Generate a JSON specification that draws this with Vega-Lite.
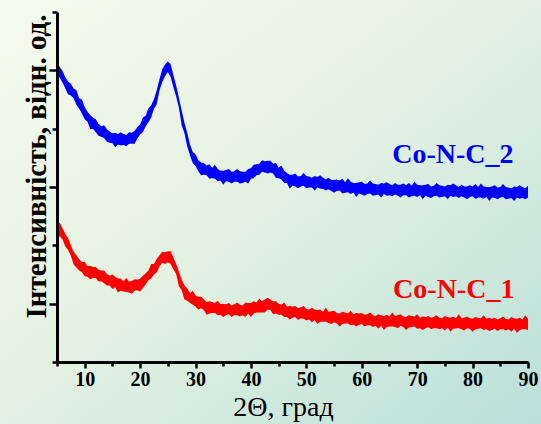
{
  "$schema": "https://vega.github.io/schema/vega-lite/v6.json",
  "width": 471,
  "height": 350,
  "autosize": {"type": "none"},
  "padding": {"left": 57, "top": 12, "right": 13, "bottom": 62},
  "background": "#e3f1e2",
  "config": {
    "view": {"stroke": null},
    "axis": {
      "grid": false,
      "domainColor": "#000000",
      "domainWidth": 3,
      "tickColor": "#000000",
      "tickWidth": 2.5,
      "labelColor": "#000000",
      "titleColor": "#000000",
      "labelFont": "Liberation Serif",
      "titleFont": "Liberation Serif"
    }
  },
  "resolve": {"axis": {"x": "independent", "y": "independent"}},
  "datasets": {
    "blue": [
      {"x":5,"lo":4.95,"hi":5.14},{"x":5.5,"lo":4.87,"hi":5.06},{"x":6,"lo":4.79,"hi":4.99},{"x":6.5,"lo":4.69,"hi":4.88},{"x":7,"lo":4.59,"hi":4.81},{"x":7.5,"lo":4.57,"hi":4.77},{"x":8,"lo":4.52,"hi":4.69},{"x":8.5,"lo":4.41,"hi":4.66},{"x":9,"lo":4.34,"hi":4.52},{"x":9.5,"lo":4.26,"hi":4.5},
      {"x":10,"lo":4.16,"hi":4.37},{"x":10.5,"lo":4.12,"hi":4.29},{"x":11,"lo":3.99,"hi":4.23},{"x":11.5,"lo":4,"hi":4.19},{"x":12,"lo":3.94,"hi":4.16},{"x":12.5,"lo":3.88,"hi":4.08},{"x":13,"lo":3.86,"hi":4.04},{"x":13.5,"lo":3.84,"hi":4.06},{"x":14,"lo":3.78,"hi":3.99},{"x":14.5,"lo":3.76,"hi":3.95},
      {"x":15,"lo":3.75,"hi":3.92},{"x":15.5,"lo":3.68,"hi":3.93},{"x":16,"lo":3.73,"hi":3.91},{"x":16.5,"lo":3.71,"hi":3.94},{"x":17,"lo":3.72,"hi":3.91},{"x":17.5,"lo":3.7,"hi":3.89},{"x":18,"lo":3.74,"hi":3.94},{"x":18.5,"lo":3.74,"hi":3.93},{"x":19,"lo":3.74,"hi":3.96},{"x":19.5,"lo":3.83,"hi":4.03},
      {"x":20,"lo":3.9,"hi":4.07},{"x":20.5,"lo":3.94,"hi":4.19},{"x":21,"lo":4.04,"hi":4.22},{"x":21.5,"lo":4.11,"hi":4.35},{"x":22,"lo":4.19,"hi":4.4},{"x":22.5,"lo":4.34,"hi":4.51},{"x":23,"lo":4.42,"hi":4.66},{"x":23.5,"lo":4.66,"hi":4.85},{"x":24,"lo":4.8,"hi":5.02},{"x":24.5,"lo":4.9,"hi":5.1},
      {"x":25,"lo":4.97,"hi":5.15},{"x":25.5,"lo":4.89,"hi":5.11},{"x":26,"lo":4.71,"hi":4.92},{"x":26.5,"lo":4.55,"hi":4.74},{"x":27,"lo":4.36,"hi":4.53},{"x":27.5,"lo":4.06,"hi":4.31},{"x":28,"lo":3.92,"hi":4.1},{"x":28.5,"lo":3.7,"hi":3.93},{"x":29,"lo":3.54,"hi":3.73},{"x":29.5,"lo":3.41,"hi":3.6},
      {"x":30,"lo":3.36,"hi":3.56},{"x":30.5,"lo":3.27,"hi":3.46},{"x":31,"lo":3.2,"hi":3.42},{"x":31.5,"lo":3.21,"hi":3.41},{"x":32,"lo":3.2,"hi":3.37},{"x":32.5,"lo":3.14,"hi":3.39},{"x":33,"lo":3.15,"hi":3.33},{"x":33.5,"lo":3.14,"hi":3.38},{"x":34,"lo":3.1,"hi":3.31},{"x":34.5,"lo":3.11,"hi":3.28},
      {"x":35,"lo":3.04,"hi":3.28},{"x":35.5,"lo":3.1,"hi":3.29},{"x":36,"lo":3.09,"hi":3.31},{"x":36.5,"lo":3.06,"hi":3.26},{"x":37,"lo":3.09,"hi":3.27},{"x":37.5,"lo":3.09,"hi":3.31},{"x":38,"lo":3.06,"hi":3.27},{"x":38.5,"lo":3.07,"hi":3.26},{"x":39,"lo":3.09,"hi":3.26},{"x":39.5,"lo":3.06,"hi":3.31},
      {"x":40,"lo":3.14,"hi":3.32},{"x":40.5,"lo":3.15,"hi":3.38},{"x":41,"lo":3.2,"hi":3.39},{"x":41.5,"lo":3.21,"hi":3.4},{"x":42,"lo":3.26,"hi":3.46},{"x":42.5,"lo":3.25,"hi":3.44},{"x":43,"lo":3.23,"hi":3.45},{"x":43.5,"lo":3.25,"hi":3.45},{"x":44,"lo":3.23,"hi":3.4},{"x":44.5,"lo":3.16,"hi":3.41},
      {"x":45,"lo":3.15,"hi":3.33},{"x":45.5,"lo":3.13,"hi":3.37},{"x":46,"lo":3.07,"hi":3.28},{"x":46.5,"lo":3.07,"hi":3.24},{"x":47,"lo":2.97,"hi":3.21},{"x":47.5,"lo":3.02,"hi":3.21},{"x":48,"lo":3.01,"hi":3.23},{"x":48.5,"lo":2.98,"hi":3.18},{"x":49,"lo":3.01,"hi":3.19},{"x":49.5,"lo":3.02,"hi":3.24},
      {"x":50,"lo":2.98,"hi":3.19},{"x":50.5,"lo":2.99,"hi":3.18},{"x":51,"lo":2.99,"hi":3.16},{"x":51.5,"lo":2.94,"hi":3.19},{"x":52,"lo":2.99,"hi":3.17},{"x":52.5,"lo":2.97,"hi":3.2},{"x":53,"lo":2.97,"hi":3.16},{"x":53.5,"lo":2.94,"hi":3.13},{"x":54,"lo":2.96,"hi":3.16},{"x":54.5,"lo":2.93,"hi":3.12},
      {"x":55,"lo":2.9,"hi":3.12},{"x":55.5,"lo":2.93,"hi":3.13},{"x":56,"lo":2.94,"hi":3.11},{"x":56.5,"lo":2.89,"hi":3.14},{"x":57,"lo":2.9,"hi":3.08},{"x":57.5,"lo":2.91,"hi":3.15},{"x":58,"lo":2.88,"hi":3.09},{"x":58.5,"lo":2.9,"hi":3.07},{"x":59,"lo":2.83,"hi":3.07},{"x":59.5,"lo":2.89,"hi":3.08},
      {"x":60,"lo":2.87,"hi":3.09},{"x":60.5,"lo":2.85,"hi":3.05},{"x":61,"lo":2.88,"hi":3.06},{"x":61.5,"lo":2.89,"hi":3.11},{"x":62,"lo":2.85,"hi":3.06},{"x":62.5,"lo":2.86,"hi":3.05},{"x":63,"lo":2.87,"hi":3.04},{"x":63.5,"lo":2.82,"hi":3.07},{"x":64,"lo":2.88,"hi":3.06},{"x":64.5,"lo":2.85,"hi":3.08},
      {"x":65,"lo":2.86,"hi":3.05},{"x":65.5,"lo":2.84,"hi":3.03},{"x":66,"lo":2.87,"hi":3.07},{"x":66.5,"lo":2.85,"hi":3.04},{"x":67,"lo":2.82,"hi":3.04},{"x":67.5,"lo":2.86,"hi":3.06},{"x":68,"lo":2.86,"hi":3.03},{"x":68.5,"lo":2.82,"hi":3.07},{"x":69,"lo":2.84,"hi":3.02},{"x":69.5,"lo":2.85,"hi":3.09},
      {"x":70,"lo":2.83,"hi":3.04},{"x":70.5,"lo":2.86,"hi":3.03},{"x":71,"lo":2.79,"hi":3.03},{"x":71.5,"lo":2.85,"hi":3.04},{"x":72,"lo":2.83,"hi":3.05},{"x":72.5,"lo":2.81,"hi":3.01},{"x":73,"lo":2.84,"hi":3.02},{"x":73.5,"lo":2.85,"hi":3.07},{"x":74,"lo":2.82,"hi":3.03},{"x":74.5,"lo":2.83,"hi":3.02},
      {"x":75,"lo":2.84,"hi":3.01},{"x":75.5,"lo":2.79,"hi":3.04},{"x":76,"lo":2.85,"hi":3.03},{"x":76.5,"lo":2.83,"hi":3.06},{"x":77,"lo":2.84,"hi":3.03},{"x":77.5,"lo":2.81,"hi":3},{"x":78,"lo":2.84,"hi":3.04},{"x":78.5,"lo":2.82,"hi":3.01},{"x":79,"lo":2.79,"hi":3.01},{"x":79.5,"lo":2.83,"hi":3.03},
      {"x":80,"lo":2.84,"hi":3.01},{"x":80.5,"lo":2.8,"hi":3.05},{"x":81,"lo":2.82,"hi":3},{"x":81.5,"lo":2.82,"hi":3.06},{"x":82,"lo":2.8,"hi":3.01},{"x":82.5,"lo":2.83,"hi":3},{"x":83,"lo":2.76,"hi":3},{"x":83.5,"lo":2.82,"hi":3.01},{"x":84,"lo":2.81,"hi":3.03},{"x":84.5,"lo":2.79,"hi":2.99},
      {"x":85,"lo":2.82,"hi":3},{"x":85.5,"lo":2.83,"hi":3.05},{"x":86,"lo":2.79,"hi":3},{"x":86.5,"lo":2.8,"hi":2.99},{"x":87,"lo":2.81,"hi":2.98},{"x":87.5,"lo":2.76,"hi":3.01},{"x":88,"lo":2.82,"hi":3},{"x":88.5,"lo":2.8,"hi":3.03},{"x":89,"lo":2.81,"hi":3},{"x":89.5,"lo":2.79,"hi":2.98},
      {"x":90,"lo":2.82,"hi":3.02}
    ],
    "red": [
      {"x":5,"lo":2.13,"hi":2.3},{"x":5.5,"lo":2.15,"hi":2.39},{"x":6,"lo":2.1,"hi":2.29},{"x":6.5,"lo":1.98,"hi":2.2},{"x":7,"lo":1.92,"hi":2.12},{"x":7.5,"lo":1.82,"hi":2},{"x":8,"lo":1.67,"hi":1.89},{"x":8.5,"lo":1.62,"hi":1.83},{"x":9,"lo":1.57,"hi":1.76},{"x":9.5,"lo":1.54,"hi":1.71},
      {"x":10,"lo":1.47,"hi":1.72},{"x":10.5,"lo":1.46,"hi":1.64},{"x":11,"lo":1.42,"hi":1.65},{"x":11.5,"lo":1.44,"hi":1.63},{"x":12,"lo":1.44,"hi":1.63},{"x":12.5,"lo":1.38,"hi":1.58},{"x":13,"lo":1.38,"hi":1.57},{"x":13.5,"lo":1.35,"hi":1.57},{"x":14,"lo":1.31,"hi":1.51},{"x":14.5,"lo":1.31,"hi":1.48},
      {"x":15,"lo":1.25,"hi":1.5},{"x":15.5,"lo":1.28,"hi":1.46},{"x":16,"lo":1.19,"hi":1.43},{"x":16.5,"lo":1.22,"hi":1.43},{"x":17,"lo":1.21,"hi":1.38},{"x":17.5,"lo":1.2,"hi":1.44},{"x":18,"lo":1.19,"hi":1.38},{"x":18.5,"lo":1.17,"hi":1.39},{"x":19,"lo":1.22,"hi":1.42},{"x":19.5,"lo":1.23,"hi":1.41},
      {"x":20,"lo":1.21,"hi":1.43},{"x":20.5,"lo":1.27,"hi":1.48},{"x":21,"lo":1.33,"hi":1.52},{"x":21.5,"lo":1.4,"hi":1.57},{"x":22,"lo":1.43,"hi":1.68},{"x":22.5,"lo":1.5,"hi":1.68},{"x":23,"lo":1.54,"hi":1.77},{"x":23.5,"lo":1.64,"hi":1.83},{"x":24,"lo":1.7,"hi":1.89},{"x":24.5,"lo":1.68,"hi":1.88},
      {"x":25,"lo":1.71,"hi":1.9},{"x":25.5,"lo":1.68,"hi":1.9},{"x":26,"lo":1.59,"hi":1.79},{"x":26.5,"lo":1.51,"hi":1.68},{"x":27,"lo":1.3,"hi":1.55},{"x":27.5,"lo":1.23,"hi":1.41},{"x":28,"lo":1.07,"hi":1.31},{"x":28.5,"lo":1.05,"hi":1.26},{"x":29,"lo":1.01,"hi":1.18},{"x":29.5,"lo":0.98,"hi":1.22},
      {"x":30,"lo":0.95,"hi":1.14},{"x":30.5,"lo":0.9,"hi":1.12},{"x":31,"lo":0.92,"hi":1.12},{"x":31.5,"lo":0.89,"hi":1.07},{"x":32,"lo":0.81,"hi":1.03},{"x":32.5,"lo":0.83,"hi":1.04},{"x":33,"lo":0.84,"hi":1.03},{"x":33.5,"lo":0.84,"hi":1.01},{"x":34,"lo":0.8,"hi":1.05},{"x":34.5,"lo":0.81,"hi":0.99},
      {"x":35,"lo":0.77,"hi":1},{"x":35.5,"lo":0.8,"hi":0.99},{"x":36,"lo":0.82,"hi":1.01},{"x":36.5,"lo":0.77,"hi":0.97},{"x":37,"lo":0.8,"hi":0.99},{"x":37.5,"lo":0.8,"hi":1.02},{"x":38,"lo":0.78,"hi":0.98},{"x":38.5,"lo":0.8,"hi":0.97},{"x":39,"lo":0.77,"hi":1.02},{"x":39.5,"lo":0.83,"hi":1.01},
      {"x":40,"lo":0.77,"hi":1.01},{"x":40.5,"lo":0.83,"hi":1.04},{"x":41,"lo":0.85,"hi":1.02},{"x":41.5,"lo":0.85,"hi":1.09},{"x":42,"lo":0.85,"hi":1.04},{"x":42.5,"lo":0.85,"hi":1.07},{"x":43,"lo":0.9,"hi":1.1},{"x":43.5,"lo":0.89,"hi":1.07},{"x":44,"lo":0.82,"hi":1.04},{"x":44.5,"lo":0.83,"hi":1.04},
      {"x":45,"lo":0.81,"hi":1},{"x":45.5,"lo":0.81,"hi":0.98},{"x":46,"lo":0.77,"hi":1.02},{"x":46.5,"lo":0.77,"hi":0.95},{"x":47,"lo":0.73,"hi":0.96},{"x":47.5,"lo":0.76,"hi":0.95},{"x":48,"lo":0.77,"hi":0.96},{"x":48.5,"lo":0.72,"hi":0.92},{"x":49,"lo":0.75,"hi":0.94},{"x":49.5,"lo":0.74,"hi":0.96},
      {"x":50,"lo":0.71,"hi":0.91},{"x":50.5,"lo":0.73,"hi":0.9},{"x":51,"lo":0.68,"hi":0.93},{"x":51.5,"lo":0.72,"hi":0.9},{"x":52,"lo":0.65,"hi":0.89},{"x":52.5,"lo":0.69,"hi":0.9},{"x":53,"lo":0.69,"hi":0.86},{"x":53.5,"lo":0.69,"hi":0.93},{"x":54,"lo":0.67,"hi":0.86},{"x":54.5,"lo":0.65,"hi":0.87},
      {"x":55,"lo":0.68,"hi":0.88},{"x":55.5,"lo":0.66,"hi":0.84},{"x":56,"lo":0.61,"hi":0.83},{"x":56.5,"lo":0.65,"hi":0.86},{"x":57,"lo":0.66,"hi":0.85},{"x":57.5,"lo":0.66,"hi":0.83},{"x":58,"lo":0.63,"hi":0.88},{"x":58.5,"lo":0.64,"hi":0.82},{"x":59,"lo":0.61,"hi":0.84},{"x":59.5,"lo":0.64,"hi":0.83},
      {"x":60,"lo":0.65,"hi":0.84},{"x":60.5,"lo":0.61,"hi":0.81},{"x":61,"lo":0.63,"hi":0.82},{"x":61.5,"lo":0.63,"hi":0.85},{"x":62,"lo":0.6,"hi":0.8},{"x":62.5,"lo":0.62,"hi":0.79},{"x":63,"lo":0.57,"hi":0.82},{"x":63.5,"lo":0.62,"hi":0.8},{"x":64,"lo":0.55,"hi":0.79},{"x":64.5,"lo":0.6,"hi":0.81},
      {"x":65,"lo":0.61,"hi":0.78},{"x":65.5,"lo":0.61,"hi":0.85},{"x":66,"lo":0.6,"hi":0.79},{"x":66.5,"lo":0.58,"hi":0.8},{"x":67,"lo":0.62,"hi":0.82},{"x":67.5,"lo":0.6,"hi":0.78},{"x":68,"lo":0.55,"hi":0.77},{"x":68.5,"lo":0.59,"hi":0.8},{"x":69,"lo":0.6,"hi":0.79},{"x":69.5,"lo":0.61,"hi":0.78},
      {"x":70,"lo":0.57,"hi":0.82},{"x":70.5,"lo":0.58,"hi":0.76},{"x":71,"lo":0.55,"hi":0.78},{"x":71.5,"lo":0.58,"hi":0.77},{"x":72,"lo":0.6,"hi":0.79},{"x":72.5,"lo":0.56,"hi":0.76},{"x":73,"lo":0.58,"hi":0.77},{"x":73.5,"lo":0.58,"hi":0.8},{"x":74,"lo":0.56,"hi":0.76},{"x":74.5,"lo":0.58,"hi":0.75},
      {"x":75,"lo":0.54,"hi":0.79},{"x":75.5,"lo":0.59,"hi":0.77},{"x":76,"lo":0.52,"hi":0.76},{"x":76.5,"lo":0.57,"hi":0.78},{"x":77,"lo":0.58,"hi":0.75},{"x":77.5,"lo":0.58,"hi":0.82},{"x":78,"lo":0.56,"hi":0.75},{"x":78.5,"lo":0.54,"hi":0.76},{"x":79,"lo":0.58,"hi":0.78},{"x":79.5,"lo":0.57,"hi":0.75},
      {"x":80,"lo":0.52,"hi":0.74},{"x":80.5,"lo":0.56,"hi":0.77},{"x":81,"lo":0.57,"hi":0.76},{"x":81.5,"lo":0.58,"hi":0.75},{"x":82,"lo":0.55,"hi":0.8},{"x":82.5,"lo":0.56,"hi":0.74},{"x":83,"lo":0.53,"hi":0.76},{"x":83.5,"lo":0.55,"hi":0.74},{"x":84,"lo":0.57,"hi":0.76},{"x":84.5,"lo":0.53,"hi":0.73},
      {"x":85,"lo":0.56,"hi":0.75},{"x":85.5,"lo":0.56,"hi":0.78},{"x":86,"lo":0.54,"hi":0.74},{"x":86.5,"lo":0.56,"hi":0.73},{"x":87,"lo":0.52,"hi":0.77},{"x":87.5,"lo":0.57,"hi":0.75},{"x":88,"lo":0.5,"hi":0.74},{"x":88.5,"lo":0.55,"hi":0.76},{"x":89,"lo":0.56,"hi":0.73},{"x":89.5,"lo":0.56,"hi":0.8},
      {"x":90,"lo":0.55,"hi":0.74}
    ],
    "one": [{}]
  },
  "layer": [
    {
      "data": {"name": "one"},
      "mark": {
        "type": "rect",
        "clip": false,
        "color": {
          "gradient": "linear",
          "x1": 0, "y1": 0, "x2": 1, "y2": 1,
          "stops": [
            {"offset": 0, "color": "#f5fbec"},
            {"offset": 0.5, "color": "#e2f1e1"},
            {"offset": 1, "color": "#b9dfd9"}
          ]
        }
      },
      "encoding": {
        "x": {"datum": -5.4, "type": "quantitative", "scale": {"domain": [5, 90], "nice": false, "zero": false}, "axis": null},
        "x2": {"datum": 92.4},
        "y": {"datum": -1.07, "type": "quantitative", "scale": {"domain": [0, 6], "nice": false, "zero": false}, "axis": null},
        "y2": {"datum": 6.21}
      }
    },
    {
      "description": "blue pattern; carries the main axes",
      "data": {"name": "blue"},
      "mark": {"type": "area", "color": "#0000ff", "opacity": 1},
      "encoding": {
        "x": {
          "field": "x", "type": "quantitative",
          "scale": {"domain": [5, 90], "nice": false, "zero": false},
          "axis": {
            "orient": "bottom",
            "zindex": 1,
            "title": "2Θ, град",
            "values": [10, 20, 30, 40, 50, 60, 70, 80, 90],
            "tickSize": 6,
            "labelFlush": false,
            "labelOverlap": false,
            "labelFontSize": 20,
            "labelFontWeight": "bold",
            "labelPadding": 1,
            "titleFontSize": 28,
            "titleFontWeight": "normal",
            "titleX": 226,
            "titleY": 53,
            "titleBaseline": "alphabetic"
          }
        },
        "y": {
          "field": "hi", "type": "quantitative",
          "scale": {"domain": [0, 6], "nice": false, "zero": false},
          "axis": {
            "orient": "left",
            "zindex": 1,
            "title": "Інтенсивність, відн. од.",
            "values": [1, 3, 5],
            "labels": false,
            "tickSize": 8,
            "titleFontSize": 29,
            "titleFontWeight": "bold",
            "titleX": -12,
            "titleY": 154,
            "titleAngle": 270,
            "titleAlign": "center",
            "titleBaseline": "alphabetic"
          }
        },
        "y2": {"field": "lo"}
      }
    },
    {
      "description": "red pattern; carries the minor ticks",
      "data": {"name": "red"},
      "mark": {"type": "area", "color": "#ff0000", "opacity": 1},
      "encoding": {
        "x": {
          "field": "x", "type": "quantitative",
          "scale": {"domain": [5, 90], "nice": false, "zero": false},
          "axis": {"orient": "bottom", "zindex": 1, "values": [5, 15, 25, 35, 45, 55, 65, 75, 85], "tickSize": 4, "labels": false, "domain": false, "title": null}
        },
        "y": {
          "field": "hi", "type": "quantitative",
          "scale": {"domain": [0, 6], "nice": false, "zero": false},
          "axis": {"orient": "left", "zindex": 1, "values": [0, 2, 4, 6], "tickSize": 5, "labels": false, "domain": false, "title": null}
        },
        "y2": {"field": "lo"}
      }
    },
    {
      "data": {"name": "one"},
      "mark": {"type": "text", "font": "Liberation Serif", "fontSize": 28, "fontWeight": "bold", "color": "#0000ff", "align": "center", "baseline": "alphabetic"},
      "encoding": {
        "x": {"datum": 76.45, "type": "quantitative", "scale": {"domain": [5, 90], "nice": false, "zero": false}, "axis": null},
        "y": {"datum": 3.41, "type": "quantitative", "scale": {"domain": [0, 6], "nice": false, "zero": false}, "axis": null},
        "text": {"value": "Co-N-C_2"}
      }
    },
    {
      "data": {"name": "one"},
      "mark": {"type": "text", "font": "Liberation Serif", "fontSize": 28, "fontWeight": "bold", "color": "#ff0000", "align": "center", "baseline": "alphabetic"},
      "encoding": {
        "x": {"datum": 76.6, "type": "quantitative", "scale": {"domain": [5, 90], "nice": false, "zero": false}, "axis": null},
        "y": {"datum": 1.1, "type": "quantitative", "scale": {"domain": [0, 6], "nice": false, "zero": false}, "axis": null},
        "text": {"value": "Co-N-C_1"}
      }
    }
  ]
}
